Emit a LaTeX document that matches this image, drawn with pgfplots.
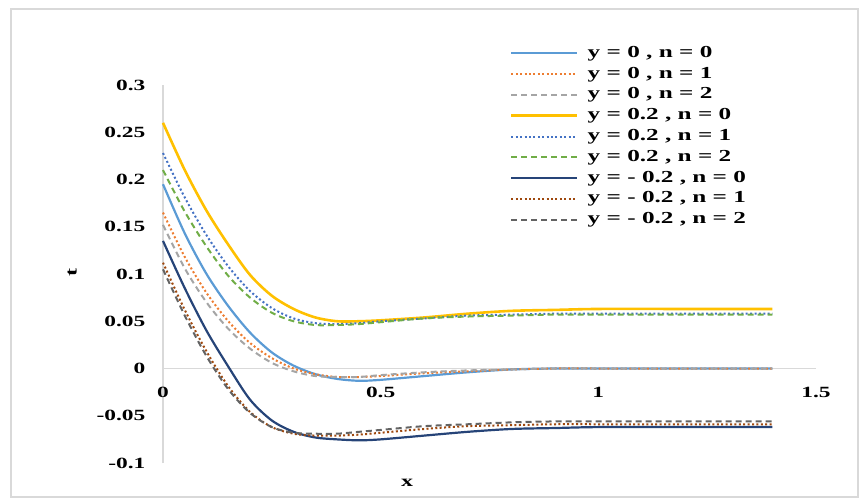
\documentclass[border=0pt]{standalone}
\usepackage{fontspec}
\setmainfont{Liberation Serif}[FakeStretch=1.5]
\usepackage{pgfplots}
\usepackage{pgfplotstable}
\pgfplotsset{compat=1.18}
\definecolor{c1}{HTML}{5B9BD5}
\definecolor{c2}{HTML}{ED7D31}
\definecolor{c3}{HTML}{A5A5A5}
\definecolor{c4}{HTML}{FFC000}
\definecolor{c5}{HTML}{4472C4}
\definecolor{c6}{HTML}{70AD47}
\definecolor{c7}{HTML}{264478}
\definecolor{c8}{HTML}{9E480E}
\definecolor{c9}{HTML}{636363}
\pgfplotstableread{
x     a      b      c      d      e      f      g      h      i
0     0.195  0.165  0.152  0.260  0.228  0.210  0.135  0.112  0.105
0.05  0.143  0.118  0.106  0.210  0.181  0.166  0.085  0.062  0.056
0.1   0.100  0.080  0.070  0.167  0.141  0.129  0.040  0.018  0.013
0.15  0.066  0.050  0.042  0.131  0.108  0.098  0.002  -0.019 -0.022
0.2   0.038  0.027  0.021  0.099  0.082  0.075  -0.033 -0.046 -0.047
0.25  0.017  0.011  0.006  0.077  0.064  0.059  -0.055 -0.062 -0.062
0.3   0.003  0.000  -0.003 0.063  0.053  0.050  -0.067 -0.069 -0.068
0.35  -0.006 -0.006 -0.008 0.054  0.048  0.046  -0.073 -0.071 -0.069
0.4   -0.011 -0.009 -0.009 0.050  0.047  0.046  -0.075 -0.071 -0.069
0.45  -0.013 -0.009 -0.009 0.050  0.048  0.047  -0.076 -0.070 -0.067
0.5   -0.012 -0.008 -0.007 0.051  0.050  0.049  -0.075 -0.068 -0.065
0.6   -0.008 -0.005 -0.004 0.054  0.053  0.053  -0.071 -0.064 -0.061
0.7   -0.004 -0.003 -0.002 0.058  0.056  0.055  -0.067 -0.061 -0.059
0.8   -0.001 -0.001 -0.001 0.061  0.057  0.056  -0.064 -0.060 -0.057
0.9   0.000  0.000  0.000  0.062  0.058  0.057  -0.063 -0.059 -0.056
1.0   0.000  0.000  0.000  0.063  0.058  0.057  -0.062 -0.059 -0.056
1.2   0.000  0.000  0.000  0.063  0.058  0.057  -0.062 -0.059 -0.056
1.4   0.000  0.000  0.000  0.063  0.058  0.057  -0.062 -0.059 -0.056
}\datatable
\begin{document}
\begin{tikzpicture}
\path[use as bounding box] (0,0) rectangle (434pt,249.5pt);
\draw[color=black!15, line width=0.6pt] (5.5pt,1pt) rectangle (429pt,245pt);
\begin{axis}[
  at={(81.5pt,18pt)}, anchor=south west,
  scale only axis, width=326.5pt, height=189pt,
  xmin=0, xmax=1.5, ymin=-0.1, ymax=0.3,
  axis x line=middle, axis y line=left,
  axis line style={draw=black!15, line width=0.6pt, -},
  hide obscured x ticks=false, hide obscured y ticks=false,
  tick style={draw=none},
  xtick={0,0.5,1,1.5},
  xticklabels={\textbf{0},\textbf{0.5},\textbf{1},\textbf{1.5}},
  ytick={-0.1,-0.05,0,0.05,0.1,0.15,0.2,0.25,0.3},
  yticklabels={\textbf{-0.1},\textbf{-0.05},\textbf{0},\textbf{0.05},\textbf{0.1},\textbf{0.15},\textbf{0.2},\textbf{0.25},\textbf{0.3}},
  ticklabel style={font=\fontsize{7.8}{9}\selectfont\bfseries},
  xticklabel style={anchor=north, inner sep=0pt, yshift=-7pt},
  yticklabel style={anchor=east, inner sep=0pt, xshift=-6.5pt},
  xlabel={x}, ylabel={t},
  label style={font=\fontsize{8}{9}\selectfont\bfseries},
  xlabel style={at={(axis description cs:0.374,-0.053)}, anchor=center},
  ylabel style={at={(axis description cs:-0.139,0.503)}, anchor=center, rotate=0},
  legend image code/.code={\draw[#1] (0pt,0pt) -- (33pt,0pt);},
  legend cell align=left,
  legend style={at={(0.531,1.106)}, anchor=north west, draw=none, fill=none,
    font=\fontsize{8.4}{9}\selectfont\bfseries, inner sep=0pt, row sep=2.4pt,
    column sep=4.5pt, nodes={inner sep=0pt, text height=6pt, text depth=2pt}},
  every axis plot/.append style={line width=1.1pt, smooth},
  clip=false,
]
\addplot[c1, solid] table[x=x,y=a]{\datatable};
\addlegendentry{y = 0 , n = 0}
\addplot[c2, line width=1pt, dash pattern=on 1pt off 1.2pt] table[x=x,y=b]{\datatable};
\addlegendentry{y = 0 , n = 1}
\addplot[c3, line width=1pt, dash pattern=on 3pt off 2pt] table[x=x,y=c]{\datatable};
\addlegendentry{y = 0 , n = 2}
\addplot[c4, solid, line width=1.3pt] table[x=x,y=d]{\datatable};
\addlegendentry{y = 0.2 , n = 0}
\addplot[c5, line width=1pt, dash pattern=on 1pt off 1.2pt] table[x=x,y=e]{\datatable};
\addlegendentry{y = 0.2 , n = 1}
\addplot[c6, line width=1pt, dash pattern=on 3pt off 2pt] table[x=x,y=f]{\datatable};
\addlegendentry{y = 0.2 , n = 2}
\addplot[c7, solid] table[x=x,y=g]{\datatable};
\addlegendentry{y = - 0.2 , n = 0}
\addplot[c8, line width=1pt, dash pattern=on 1pt off 1.2pt] table[x=x,y=h]{\datatable};
\addlegendentry{y = - 0.2 , n = 1}
\addplot[c9, line width=1pt, dash pattern=on 3pt off 2pt] table[x=x,y=i]{\datatable};
\addlegendentry{y = - 0.2 , n = 2}
\end{axis}
\end{tikzpicture}
\end{document}
